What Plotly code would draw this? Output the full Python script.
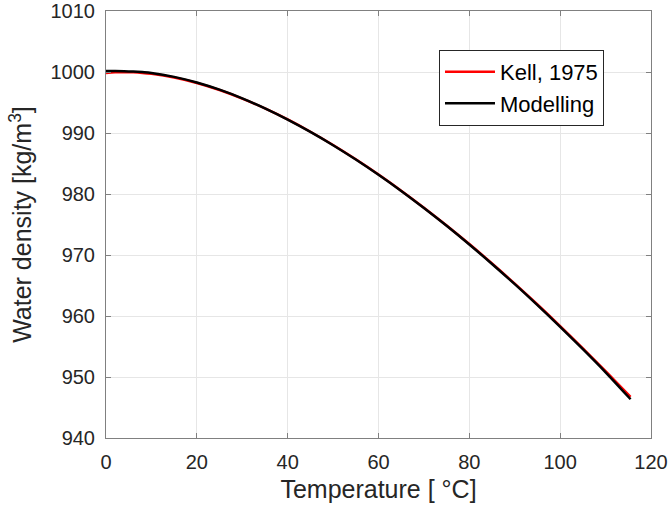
import plotly.graph_objects as go

temps = [0, 2, 4, 6, 8, 10, 15, 20, 25, 30, 35, 40, 45, 50, 55, 60, 65, 70, 75, 80, 85, 90, 95, 100, 105, 110, 115.5]
kell = [999.84, 999.94, 999.97, 999.94, 999.85, 999.70, 999.10, 998.21, 997.05, 995.65, 994.03, 992.22, 990.21,
        988.04, 985.69, 983.20, 980.55, 977.76, 974.84, 971.79, 968.61, 965.31, 961.89, 958.35, 954.70, 950.95, 946.75]
model = [1000.15, 1000.16, 1000.14, 1000.08, 999.98, 999.84, 999.20, 998.28, 997.10, 995.68, 994.04, 992.20, 990.18,
         988.00, 985.65, 983.15, 980.50, 977.70, 974.78, 971.72, 968.53, 965.22, 961.79, 958.23, 954.56, 950.77, 946.35]

fig = go.Figure()
fig.add_trace(go.Scatter(x=temps, y=kell, mode="lines", name="Kell, 1975",
                         line=dict(color="#ff0000", width=2.5, shape="spline")))
fig.add_trace(go.Scatter(x=temps, y=model, mode="lines", name="Modelling",
                         line=dict(color="#000000", width=2.5, shape="spline")))

FONT = "Liberation Sans, Arial, Helvetica"
axis_common = dict(showline=True, linecolor="#808080", linewidth=1, mirror="ticks",
                   ticks="inside", ticklen=5, tickcolor="#808080",
                   showgrid=True, gridcolor="#e6e6e6", gridwidth=1, zeroline=False,
                   automargin=False, ticklabeloverflow="allow",
                   tickfont=dict(family=FONT, size=20, color="#262626"))

fig.update_layout(
    width=671, height=518,
    margin=dict(l=106, r=20, t=11, b=80),
    paper_bgcolor="white", plot_bgcolor="white",
    font=dict(family=FONT, color="#262626"),
    xaxis=dict(range=[0, 120], tickvals=[0, 20, 40, 60, 80, 100, 120], ticklabelstandoff=6,
               title=dict(text="Temperature [ °C]", font=dict(size=25), standoff=8), **axis_common),
    yaxis=dict(range=[940, 1010], tickvals=[940, 950, 960, 970, 980, 990, 1000, 1010], ticklabelstandoff=6,
               title=dict(text="Water density [kg/m<sup>3</sup>]", font=dict(size=25), standoff=11), **axis_common),
    legend=dict(x=0.611, y=0.909, xanchor="left", yanchor="top",
                bgcolor="white", bordercolor="#262626", borderwidth=1,
                font=dict(family=FONT, size=22, color="#000000"),
                itemwidth=50, tracegroupgap=0),
    showlegend=True,
)

fig.write_html("out.html")
